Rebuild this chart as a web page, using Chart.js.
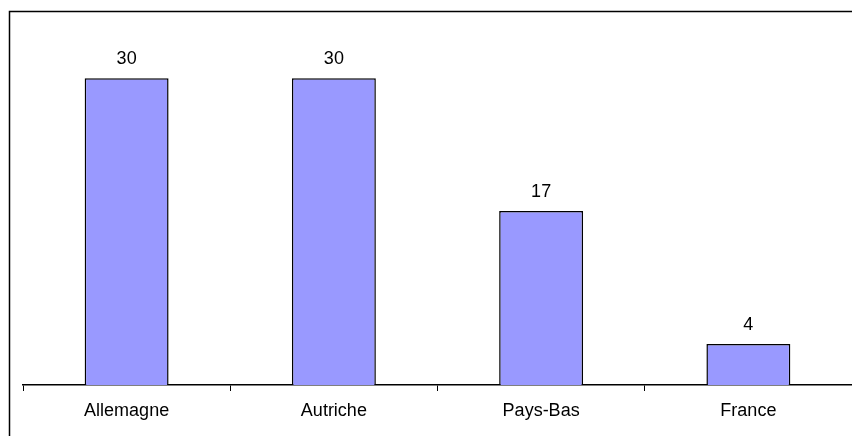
<!DOCTYPE html>
<html>
<head>
<meta charset="utf-8">
<script src="https://cdn.jsdelivr.net/npm/chart.js@4"></script>
<style>
	html, body { margin: 0; padding: 0; background: #fff; }
	#wrap { width: 852px; height: 436px; position: relative; }
</style>
</head>
<body>
<div id="wrap"><canvas id="bar-chart"></canvas></div>
<script>
const countries = ["Allemagne", "Autriche", "Pays-Bas", "France"];
const counts = [30, 30, 17, 4];

// frame line on top and left, values above the bars
const framePlugin = {
	id: "frame",
	afterDraw(chart)
	{
		const ctx = chart.ctx;
		ctx.save();
		ctx.strokeStyle = "#000";
		ctx.lineWidth = 1.5;
		ctx.beginPath();
		ctx.moveTo(9.5, 436);
		ctx.lineTo(9.5, 11.5);
		ctx.lineTo(852, 11.5);
		ctx.stroke();

		ctx.fillStyle = "#000";
		ctx.font = "18px 'Liberation Sans', Arial, sans-serif";
		ctx.textAlign = "center";
		ctx.textBaseline = "alphabetic";
		chart.getDatasetMeta(0).data.forEach(function (bar, i)
		{
			ctx.fillText(String(counts[i]), bar.x, bar.y - 14.5);
		});
		ctx.restore();
	}
};

const chart = new Chart(document.getElementById("bar-chart"), {
	type: "bar",
	data: {
		labels: countries,
		datasets: [{
			data: counts,
			backgroundColor: "#9999FF",
			borderColor: "#000",
			borderWidth: 1.5,
			categoryPercentage: 1,
			barPercentage: 0.405
		}]
	},
	options: {
		responsive: true,
		maintainAspectRatio: false,
		animation: false,
		layout: {padding: {left: 23, right: 0, top: 27, bottom: 0}},
		plugins: {legend: {display: false}, tooltip: {enabled: false}},
		scales: {
			x: {
				grid: {drawOnChartArea: false, drawTicks: true, tickLength: 6, color: "#000", lineWidth: 1},
				border: {display: true, color: "#000", width: 1.5},
				ticks: {
					color: "#000", padding: 9,
					font: {family: "'Liberation Sans', Arial, sans-serif", size: 18}
				},
				afterFit(scale) { scale.height = 51; }
			},
			y: {display: false, min: 0, max: 35}
		}
	},
	plugins: [framePlugin]
});
</script>
</body>
</html>
